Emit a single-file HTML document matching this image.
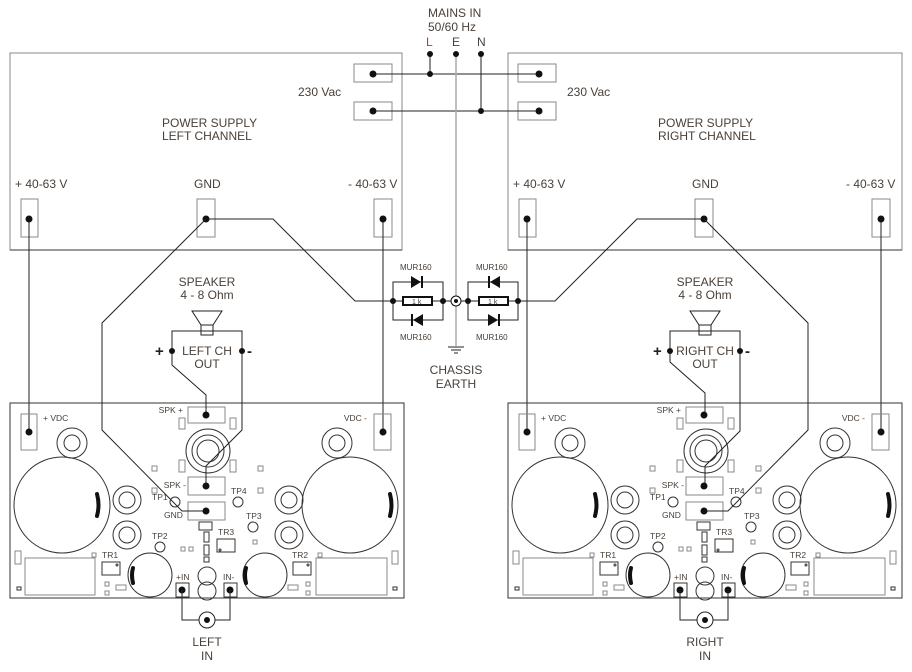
<!DOCTYPE html>
<html><head><meta charset="utf-8"><style>
html,body{margin:0;padding:0;background:#fff;}
svg{display:block;}
text{font-family:"Liberation Sans",Arial,sans-serif;fill:#4a4038;}
.t{font-size:12px;}
.s{font-size:8.5px;}
.w{fill:none;stroke:#222;stroke-width:1;}
.b{fill:none;stroke:#333;stroke-width:1;}
.g{fill:none;stroke:#8a8a8a;stroke-width:1;}
.d{fill:#111;}
.m{fill:none;stroke:#111;stroke-width:4;stroke-linecap:round;}
</style></head><body>
<svg width="912" height="672" viewBox="0 0 912 672" xmlns="http://www.w3.org/2000/svg">
<rect x="10" y="53" width="392" height="197" class="g"/>
<line x1="10" y1="250" x2="402" y2="250" stroke="#333"/>
<rect x="508" y="53" width="394" height="197" class="g"/>
<line x1="508" y1="250" x2="902" y2="250" stroke="#333"/>

<text x="428" y="17" class="t">MAINS IN</text>
<text x="428" y="31" class="t">50/60 Hz</text>
<text x="426" y="46" class="t" style="fill:#c0392b">L</text>
<text x="452" y="46" class="t">E</text>
<text x="477" y="46" class="t">N</text>
<rect x="354" y="64" width="38" height="18" class="g"/>
<rect x="354" y="102" width="38" height="18" class="g"/>
<rect x="518" y="64" width="38" height="18" class="g"/>
<rect x="518" y="102" width="38" height="18" class="g"/>
<line x1="373" y1="74" x2="539" y2="74" stroke="#222"/>
<line x1="373" y1="111" x2="539" y2="111" stroke="#222"/>
<line x1="430" y1="54" x2="430" y2="74" stroke="#222"/>
<line x1="481" y1="54" x2="481" y2="111" stroke="#222"/>
<line x1="456" y1="54" x2="456" y2="296" stroke="#aaa" stroke-width="1.5"/>
<line x1="456" y1="306" x2="456" y2="346" stroke="#aaa" stroke-width="1.5"/>
<circle cx="430" cy="54" r="3" class="d"/><circle cx="456" cy="54" r="3" class="d"/><circle cx="481" cy="54" r="3" class="d"/>
<circle cx="430" cy="74" r="3" class="d"/><circle cx="481" cy="111" r="3" class="d"/>
<circle cx="373" cy="74" r="3.5" class="d"/><circle cx="373" cy="111" r="3.5" class="d"/>
<circle cx="539" cy="74" r="3.5" class="d"/><circle cx="539" cy="111" r="3.5" class="d"/>
<text x="298" y="96" class="t">230 Vac</text>
<text x="567" y="96" class="t">230 Vac</text>

<text x="162" y="127" class="t">POWER SUPPLY</text>
<text x="162" y="140" class="t">LEFT CHANNEL</text>
<text x="658" y="127" class="t">POWER SUPPLY</text>
<text x="658" y="140" class="t">RIGHT CHANNEL</text>
<text x="15" y="188" class="t">+ 40-63 V</text>
<text x="194" y="188" class="t">GND</text>
<text x="348" y="188" class="t">- 40-63 V</text>
<text x="513" y="188" class="t">+ 40-63 V</text>
<text x="692" y="188" class="t">GND</text>
<text x="846" y="188" class="t">- 40-63 V</text>
<rect x="21" y="199" width="17" height="38" class="g"/>
<rect x="197" y="199" width="18" height="38" class="g"/>
<rect x="374" y="199" width="18" height="38" class="g"/>
<rect x="519" y="199" width="17" height="38" class="g"/>
<rect x="695" y="199" width="18" height="38" class="g"/>
<rect x="872" y="199" width="18" height="38" class="g"/>

<path class="w" d="M206,219 L273,219 L355,301 L393,301"/>
<path class="w" d="M704,219 L637,219 L555,301 L518,301"/>
<path class="w" d="M393,282 L443,282 L443,320 L393,320 Z"/>
<path class="w" d="M468,282 L518,282 L518,320 L468,320 Z"/>
<line x1="393" y1="301" x2="403" y2="301" stroke="#222"/><line x1="432" y1="301" x2="451" y2="301" stroke="#222"/>
<line x1="461" y1="301" x2="479" y2="301" stroke="#222"/><line x1="508" y1="301" x2="518" y2="301" stroke="#222"/>
<rect x="403" y="297" width="29" height="8" fill="#fff" stroke="#111" stroke-width="2"/>
<rect x="479" y="297" width="29" height="8" fill="#fff" stroke="#111" stroke-width="2"/>
<text x="412" y="304" style="font-size:7px">1 k</text>
<text x="488" y="304" style="font-size:7px">1 k</text>
<polygon points="411,276 411,288 421,282" class="d"/><rect x="421" y="276" width="2" height="12" class="d"/>
<polygon points="423,314 423,326 413,320" class="d"/><rect x="411" y="314" width="2" height="12" class="d"/>
<polygon points="500,276 500,288 490,282" class="d"/><rect x="488" y="276" width="2" height="12" class="d"/>
<polygon points="488,314 488,326 498,320" class="d"/><rect x="498" y="314" width="2" height="12" class="d"/>
<circle cx="393" cy="301" r="3" class="d"/><circle cx="443" cy="301" r="3" class="d"/>
<circle cx="468" cy="301" r="3" class="d"/><circle cx="518" cy="301" r="3" class="d"/>
<circle cx="456" cy="301" r="5" fill="#fff" stroke="#111"/><circle cx="456" cy="301" r="2" class="d"/>
<text x="400" y="270" style="font-size:8px">MUR160</text>
<text x="400" y="340" style="font-size:8px">MUR160</text>
<text x="476" y="270" style="font-size:8px">MUR160</text>
<text x="476" y="340" style="font-size:8px">MUR160</text>
<line x1="448" y1="347" x2="464" y2="347" stroke="#222"/>
<line x1="451" y1="350" x2="461" y2="350" stroke="#222"/>
<line x1="454" y1="353" x2="458" y2="353" stroke="#222"/>
<text x="456" y="374" class="t" text-anchor="middle">CHASSIS</text>
<text x="456" y="388" class="t" text-anchor="middle">EARTH</text>

<line x1="29" y1="219" x2="29" y2="432" stroke="#222"/>
<line x1="383" y1="219" x2="383" y2="432" stroke="#222"/>
<line x1="527" y1="219" x2="527" y2="432" stroke="#222"/>
<line x1="881" y1="219" x2="881" y2="432" stroke="#222"/>
<circle cx="29" cy="219" r="3.5" class="d"/><circle cx="206" cy="219" r="3.5" class="d"/><circle cx="383" cy="219" r="3.5" class="d"/>
<circle cx="527" cy="219" r="3.5" class="d"/><circle cx="704" cy="219" r="3.5" class="d"/><circle cx="881" cy="219" r="3.5" class="d"/>

<g>
<rect x="10" y="403" width="394" height="195" class="b"/>
<rect x="21" y="414" width="16" height="36" class="g"/>
<rect x="374" y="414" width="17" height="36" class="g"/>
<circle cx="72" cy="443" r="15" class="b"/><circle cx="72" cy="443" r="8" class="b"/>
<circle cx="337" cy="443" r="15" class="b"/><circle cx="337" cy="443" r="8" class="b"/>
<circle cx="62" cy="505" r="48" class="b"/><circle cx="350" cy="505" r="48" class="b"/>
<path class="m" d="M97,494 Q100,505 97,516"/><path class="m" d="M390,494 Q393,505 390,516"/>
<circle cx="127" cy="500" r="14" class="b"/><circle cx="127" cy="500" r="8" class="b"/>
<circle cx="127" cy="535" r="14" class="b"/><circle cx="127" cy="535" r="8" class="b"/>
<circle cx="289" cy="500" r="14" class="b"/><circle cx="289" cy="500" r="8" class="b"/>
<circle cx="289" cy="535" r="14" class="b"/><circle cx="289" cy="535" r="8" class="b"/>
<circle cx="208" cy="451" r="22" class="b"/><circle cx="208" cy="451" r="16" class="b"/><circle cx="208" cy="451" r="11" class="b"/>
<rect x="188" y="407" width="37" height="16" class="g"/>
<rect x="179" y="418" width="6" height="11" class="g"/><rect x="230" y="418" width="6" height="11" class="g"/>
<rect x="179" y="460" width="6" height="12" class="g"/><rect x="230" y="460" width="6" height="12" class="g"/>
<rect x="188" y="477" width="37" height="18" class="g"/>
<rect x="188" y="502" width="37" height="18" class="g"/>
<circle cx="175" cy="502" r="5" class="b"/><circle cx="238" cy="502" r="5" class="b"/>
<circle cx="253" cy="527" r="5" class="b"/><circle cx="160" cy="547" r="5" class="b"/>
<rect x="217" y="539" width="18" height="13" class="b"/><circle cx="220" cy="550" r="1" class="b"/>
<rect x="199" y="522" width="13" height="8" class="b"/>
<rect x="204" y="532" width="5" height="10" class="b"/><rect x="204" y="545" width="5" height="10" class="b"/><rect x="204" y="557" width="5" height="5" class="b"/>
<circle cx="207" cy="576" r="9" class="b"/><circle cx="207" cy="591" r="9" class="b"/>
<circle cx="150" cy="575" r="22" class="b"/><circle cx="265" cy="575" r="22" class="b"/>
<path class="m" d="M133,568 Q131,575 133,583"/><path class="m" d="M246,568 Q244,575 246,583"/>
<rect x="176" y="583" width="13" height="14" class="b"/><rect x="224" y="583" width="13" height="14" class="b"/>
<rect x="25" y="558" width="70" height="37" class="g"/><rect x="316" y="558" width="71" height="37" class="g"/>
<rect x="102" y="562" width="18" height="13" class="b"/><circle cx="117" cy="565" r="1" class="b"/>
<rect x="293" y="562" width="18" height="13" class="b"/><circle cx="308" cy="565" r="1" class="b"/>
<g class="g"><rect x="152" y="466" width="5" height="5"/><rect x="152" y="488" width="5" height="5"/><rect x="258" y="466" width="5" height="5"/><rect x="258" y="488" width="5" height="5"/>
<rect x="181" y="547" width="4" height="4"/><rect x="189" y="547" width="4" height="4"/><rect x="253" y="540" width="4" height="4"/>
<rect x="92" y="553" width="4" height="4"/><rect x="318" y="553" width="4" height="4"/>
<rect x="105" y="582" width="4" height="4"/><rect x="105" y="591" width="4" height="4"/><rect x="306" y="582" width="4" height="4"/><rect x="306" y="591" width="4" height="4"/>
<rect x="116" y="585" width="10" height="5"/><rect x="288" y="585" width="10" height="5"/>
<rect x="15" y="551" width="6" height="13"/><rect x="392" y="551" width="6" height="13"/></g>
<rect x="17" y="587" width="4" height="3" class="b"/><rect x="393" y="587" width="4" height="3" class="b"/>
<text x="43" y="421" class="s">+ VDC</text><text x="367" y="421" class="s" text-anchor="end">VDC -</text>
<text x="183" y="413" class="s" text-anchor="end">SPK +</text><text x="186" y="488" class="s" text-anchor="end">SPK -</text>
<text x="152" y="500" class="s">TP1</text><text x="164" y="518" class="s">GND</text>
<text x="231" y="494" class="s">TP4</text><text x="246" y="519" class="s">TP3</text>
<text x="152" y="539" class="s">TP2</text><text x="218" y="535" class="s">TR3</text>
<text x="102" y="558" class="s">TR1</text><text x="292" y="558" class="s">TR2</text>
<text x="176" y="580" class="s">+IN</text><text x="223" y="580" class="s">IN-</text>
</g>

<g transform="translate(498,0)">
<rect x="10" y="403" width="394" height="195" class="b"/>
<rect x="21" y="414" width="16" height="36" class="g"/>
<rect x="374" y="414" width="17" height="36" class="g"/>
<circle cx="72" cy="443" r="15" class="b"/><circle cx="72" cy="443" r="8" class="b"/>
<circle cx="337" cy="443" r="15" class="b"/><circle cx="337" cy="443" r="8" class="b"/>
<circle cx="62" cy="505" r="48" class="b"/><circle cx="350" cy="505" r="48" class="b"/>
<path class="m" d="M97,494 Q100,505 97,516"/><path class="m" d="M390,494 Q393,505 390,516"/>
<circle cx="127" cy="500" r="14" class="b"/><circle cx="127" cy="500" r="8" class="b"/>
<circle cx="127" cy="535" r="14" class="b"/><circle cx="127" cy="535" r="8" class="b"/>
<circle cx="289" cy="500" r="14" class="b"/><circle cx="289" cy="500" r="8" class="b"/>
<circle cx="289" cy="535" r="14" class="b"/><circle cx="289" cy="535" r="8" class="b"/>
<circle cx="208" cy="451" r="22" class="b"/><circle cx="208" cy="451" r="16" class="b"/><circle cx="208" cy="451" r="11" class="b"/>
<rect x="188" y="407" width="37" height="16" class="g"/>
<rect x="179" y="418" width="6" height="11" class="g"/><rect x="230" y="418" width="6" height="11" class="g"/>
<rect x="179" y="460" width="6" height="12" class="g"/><rect x="230" y="460" width="6" height="12" class="g"/>
<rect x="188" y="477" width="37" height="18" class="g"/>
<rect x="188" y="502" width="37" height="18" class="g"/>
<circle cx="175" cy="502" r="5" class="b"/><circle cx="238" cy="502" r="5" class="b"/>
<circle cx="253" cy="527" r="5" class="b"/><circle cx="160" cy="547" r="5" class="b"/>
<rect x="217" y="539" width="18" height="13" class="b"/><circle cx="220" cy="550" r="1" class="b"/>
<rect x="199" y="522" width="13" height="8" class="b"/>
<rect x="204" y="532" width="5" height="10" class="b"/><rect x="204" y="545" width="5" height="10" class="b"/><rect x="204" y="557" width="5" height="5" class="b"/>
<circle cx="207" cy="576" r="9" class="b"/><circle cx="207" cy="591" r="9" class="b"/>
<circle cx="150" cy="575" r="22" class="b"/><circle cx="265" cy="575" r="22" class="b"/>
<path class="m" d="M133,568 Q131,575 133,583"/><path class="m" d="M246,568 Q244,575 246,583"/>
<rect x="176" y="583" width="13" height="14" class="b"/><rect x="224" y="583" width="13" height="14" class="b"/>
<rect x="25" y="558" width="70" height="37" class="g"/><rect x="316" y="558" width="71" height="37" class="g"/>
<rect x="102" y="562" width="18" height="13" class="b"/><circle cx="117" cy="565" r="1" class="b"/>
<rect x="293" y="562" width="18" height="13" class="b"/><circle cx="308" cy="565" r="1" class="b"/>
<g class="g"><rect x="152" y="466" width="5" height="5"/><rect x="152" y="488" width="5" height="5"/><rect x="258" y="466" width="5" height="5"/><rect x="258" y="488" width="5" height="5"/>
<rect x="181" y="547" width="4" height="4"/><rect x="189" y="547" width="4" height="4"/><rect x="253" y="540" width="4" height="4"/>
<rect x="92" y="553" width="4" height="4"/><rect x="318" y="553" width="4" height="4"/>
<rect x="105" y="582" width="4" height="4"/><rect x="105" y="591" width="4" height="4"/><rect x="306" y="582" width="4" height="4"/><rect x="306" y="591" width="4" height="4"/>
<rect x="116" y="585" width="10" height="5"/><rect x="288" y="585" width="10" height="5"/>
<rect x="15" y="551" width="6" height="13"/><rect x="392" y="551" width="6" height="13"/></g>
<rect x="17" y="587" width="4" height="3" class="b"/><rect x="393" y="587" width="4" height="3" class="b"/>
<text x="43" y="421" class="s">+ VDC</text><text x="367" y="421" class="s" text-anchor="end">VDC -</text>
<text x="183" y="413" class="s" text-anchor="end">SPK +</text><text x="186" y="488" class="s" text-anchor="end">SPK -</text>
<text x="152" y="500" class="s">TP1</text><text x="164" y="518" class="s">GND</text>
<text x="231" y="494" class="s">TP4</text><text x="246" y="519" class="s">TP3</text>
<text x="152" y="539" class="s">TP2</text><text x="218" y="535" class="s">TR3</text>
<text x="102" y="558" class="s">TR1</text><text x="292" y="558" class="s">TR2</text>
<text x="176" y="580" class="s">+IN</text><text x="223" y="580" class="s">IN-</text>
</g>

<path class="w" d="M206,219 L102,323 L102,430 L182,511 L206,511"/>
<path class="w" d="M704,219 L808,323 L808,430 L728,511 L704,511"/>

<text x="207" y="286" class="t" text-anchor="middle">SPEAKER</text>
<text x="207" y="299" class="t" text-anchor="middle">4 - 8 Ohm</text>
<text x="705" y="286" class="t" text-anchor="middle">SPEAKER</text>
<text x="705" y="299" class="t" text-anchor="middle">4 - 8 Ohm</text>
<polygon points="192,311 222,311 213,325 201,325" class="w"/><rect x="201" y="325" width="12" height="10" class="w"/>
<polygon points="690,311 720,311 711,325 699,325" class="w"/><rect x="699" y="325" width="12" height="10" class="w"/>
<path class="w" d="M172,351 L172,331 L242,331 L242,351"/>
<path class="w" d="M670,351 L670,331 L740,331 L740,351"/>
<path class="w" d="M172,351 L172,365 L206,395 L206,415"/>
<path class="w" d="M242,351 L242,430 L206,466 L206,486"/>
<path class="w" d="M670,351 L670,362 L705,393 L705,415"/>
<path class="w" d="M740,351 L740,431 L705,466 L705,486"/>
<circle cx="172" cy="351" r="3" class="d"/><circle cx="242" cy="351" r="3" class="d"/>
<circle cx="670" cy="351" r="3" class="d"/><circle cx="740" cy="351" r="3" class="d"/>
<text x="155" y="356" style="font-size:15px;font-weight:bold;fill:#222">+</text>
<text x="247" y="356" style="font-size:15px;font-weight:bold;fill:#222">-</text>
<text x="653" y="356" style="font-size:15px;font-weight:bold;fill:#222">+</text>
<text x="745" y="356" style="font-size:15px;font-weight:bold;fill:#222">-</text>
<text x="207" y="355" class="t" text-anchor="middle">LEFT CH</text>
<text x="207" y="368" class="t" text-anchor="middle">OUT</text>
<text x="705" y="355" class="t" text-anchor="middle">RIGHT CH</text>
<text x="705" y="368" class="t" text-anchor="middle">OUT</text>

<g class="d">
<circle cx="29" cy="432" r="3.5"/><circle cx="383" cy="432" r="3.5"/><circle cx="206" cy="415" r="3.5"/><circle cx="206" cy="486" r="3.5"/><circle cx="206" cy="511" r="3.5"/><circle cx="182" cy="590" r="3.5"/><circle cx="230" cy="590" r="3.5"/>
<circle cx="527" cy="432" r="3.5"/><circle cx="881" cy="432" r="3.5"/><circle cx="704" cy="415" r="3.5"/><circle cx="704" cy="486" r="3.5"/><circle cx="704" cy="511" r="3.5"/><circle cx="680" cy="590" r="3.5"/><circle cx="728" cy="590" r="3.5"/>
</g>

<path class="w" d="M182,590 L182,620 L199,620 M230,590 L230,620 L215,620"/>
<circle cx="207" cy="620" r="8" class="w"/><circle cx="207" cy="620" r="3" class="d"/>
<path class="w" d="M680,590 L680,620 L697,620 M728,590 L728,620 L713,620"/>
<circle cx="705" cy="620" r="8" class="w"/><circle cx="705" cy="620" r="3" class="d"/>
<text x="207" y="646" class="t" text-anchor="middle">LEFT</text>
<text x="207" y="660" class="t" text-anchor="middle">IN</text>
<text x="705" y="646" class="t" text-anchor="middle">RIGHT</text>
<text x="705" y="660" class="t" text-anchor="middle">IN</text>
</svg>
</body></html>
